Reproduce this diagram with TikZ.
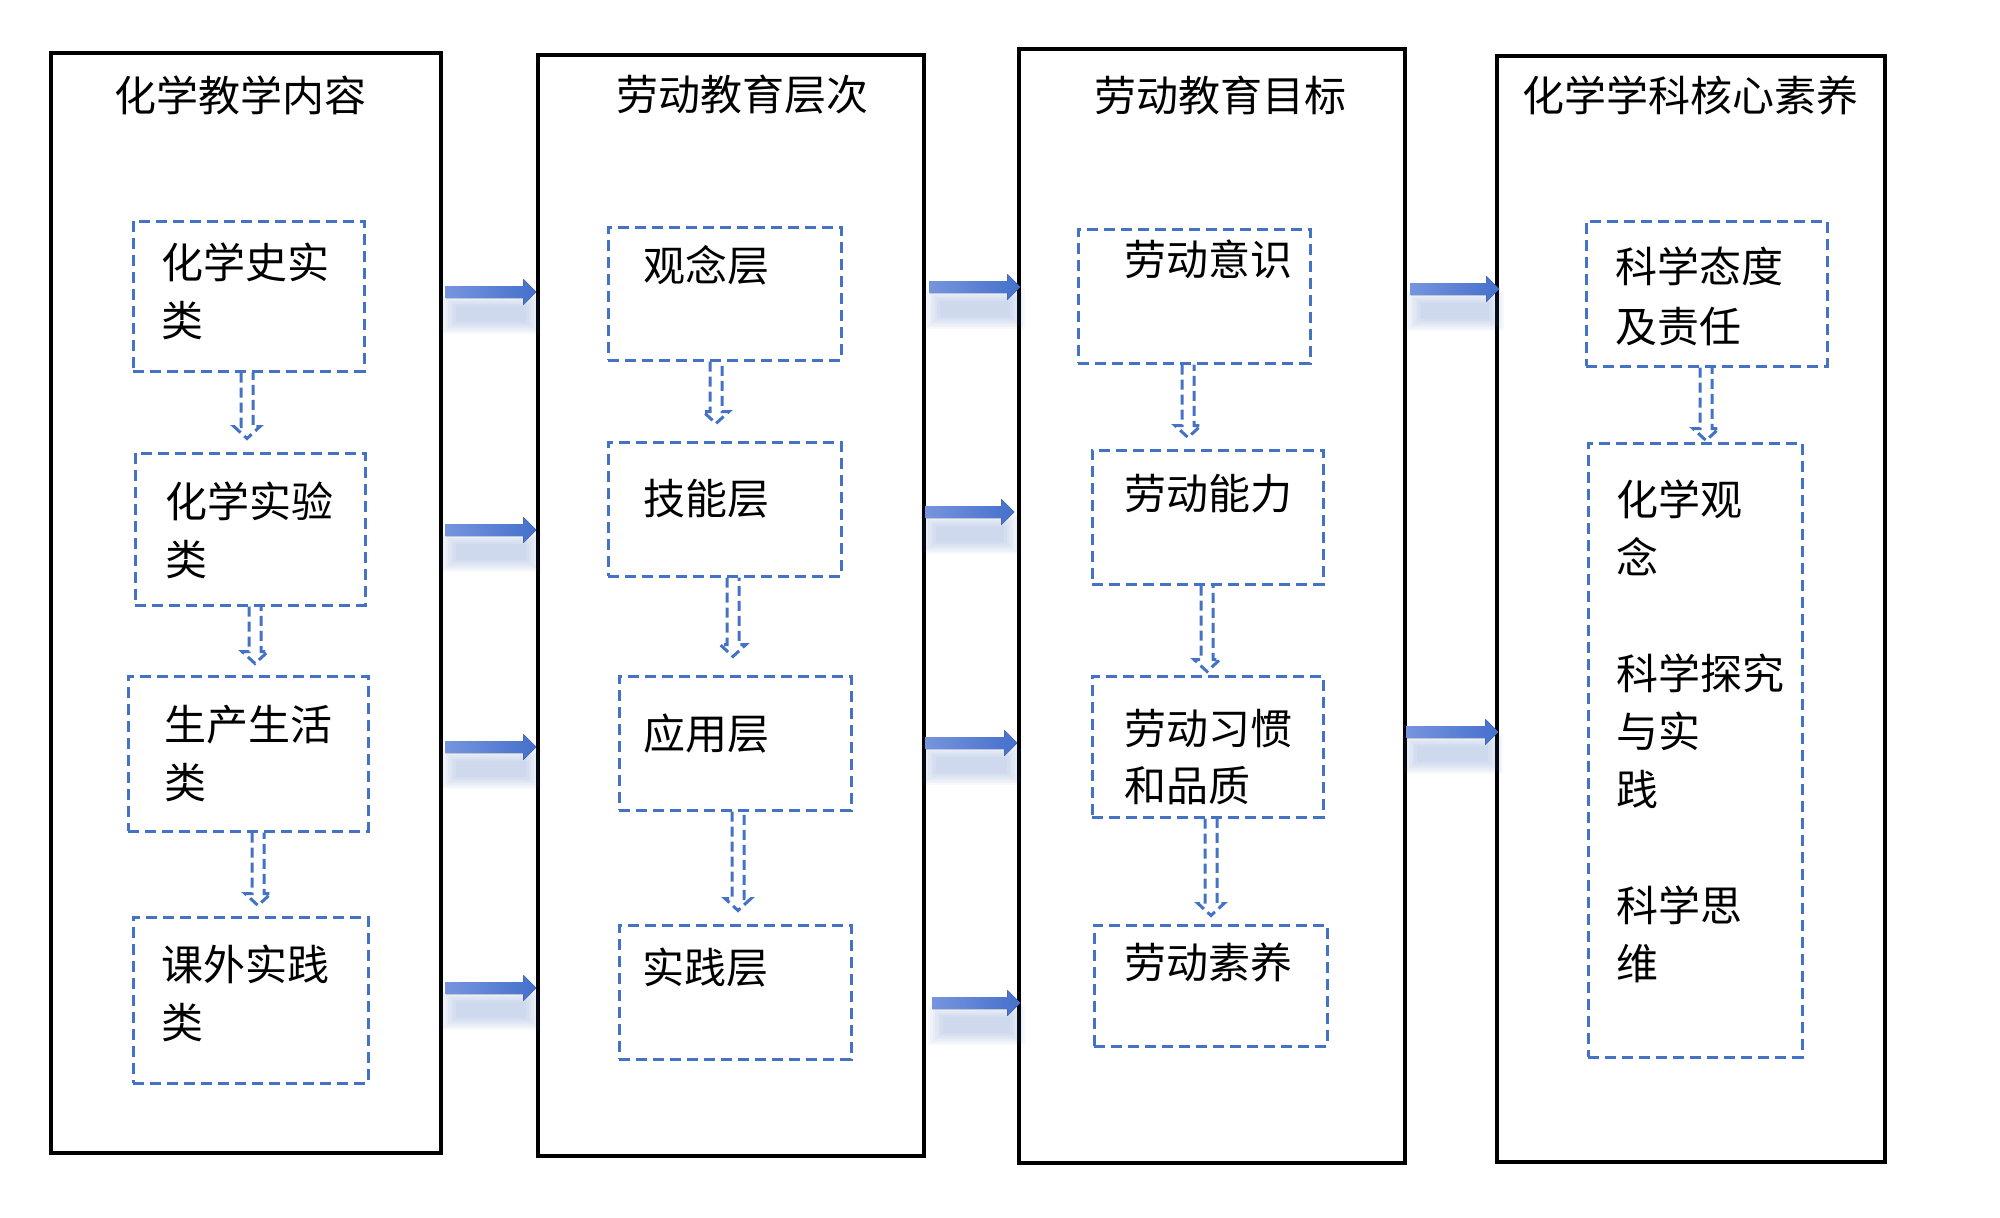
\documentclass[tikz,border=0pt]{standalone}
\usepackage{fontspec}
\newfontfamily\cjk{Noto Sans CJK SC}
\usetikzlibrary{calc,fit}
\definecolor{dashblue}{RGB}{68,114,196}
\definecolor{arrdark}{RGB}{68,112,204}
\definecolor{arrlight}{RGB}{118,148,222}
\tikzset{
  outerbox/.style={draw=black,line width=3.2pt,inner sep=0pt},
  dbox/.style={draw=dashblue,line width=3pt,dash pattern=on 11pt off 6pt,inner sep=0pt},
  titletext/.style={font=\cjk\fontsize{42}{50}\selectfont,inner sep=0pt},
  lbl/.style={font=\cjk\fontsize{42}{58}\selectfont,align=left,anchor=north west,inner sep=0pt},
  vdash/.style={draw=dashblue,line width=3pt,dash pattern=on 10pt off 5pt,line join=miter},
  arrfill/.style={left color=arrlight,right color=arrdark},
  arrshadow/.style={fill=dashblue,opacity=0.04},
}
% horizontal block arrow: from node, to node, y, start offset, end offset
\newcommand\harrow[5]{%
  \foreach \k in {0,...,6}{%
    \fill[arrshadow] let \p1=(#1.east), \p2=(#2.west) in
      ({\x1+#4pt+10pt-\k*2.5pt},{-#3pt-14pt+\k*2pt}) rectangle ({\x2+(#5pt)-10pt+\k*2.5pt},{-#3pt-30pt-\k*2pt});
  }
  \fill[arrfill] let \p1=(#1.east), \p2=(#2.west) in
    ({\x1+#4pt},{-#3pt+6pt}) -- ({\x2+(#5pt)-13pt},{-#3pt+6pt}) -- ({\x2+(#5pt)-13pt},{-#3pt+13pt})
    -- ({\x2+(#5pt)},{-#3pt}) -- ({\x2+(#5pt)-13pt},{-#3pt-13pt}) -- ({\x2+(#5pt)-13pt},{-#3pt-6pt})
    -- ({\x1+#4pt},{-#3pt-6pt}) -- cycle;
}
% vertical dashed hollow arrow: top node, bottom node, x, gap above bottom node
\newcommand\varrow[4]{%
  \draw[vdash] let \p1=(#1.south), \p2=(#2.north) in
   ({#3pt-6pt},{\y1}) -- ({#3pt-6pt},{\y2+#4pt+12pt}) -- ({#3pt-13pt},{\y2+#4pt+12pt}) -- ({#3pt},{\y2+#4pt})
   -- ({#3pt+13pt},{\y2+#4pt+12pt}) -- ({#3pt+6pt},{\y2+#4pt+12pt}) -- ({#3pt+6pt},{\y1});
}
\begin{document}
\begin{tikzpicture}[x=1pt,y=-1pt]
\useasboundingbox (0,0) rectangle (2000,1218);
\fill[white] (0,0) rectangle (2000,1218);

% outer boxes
\node[outerbox,fit={(51,53) (441,1153)}] (b1) {};
\node[outerbox,fit={(538,55) (924,1156)}] (b2) {};
\node[outerbox,fit={(1019,49) (1405,1163)}] (b3) {};
\node[outerbox,fit={(1497,56) (1885,1162)}] (b4) {};

% titles
\node[titletext] (h1) at (240,95) {化学教学内容};
\node[titletext] (h2) at (742,95) {劳动教育层次};
\node[titletext] (h3) at (1220,95) {劳动教育目标};
\node[titletext] (h4) at (1690,95) {化学学科核心素养};

% column 1
\node[dbox,fit={(133,221) (364,371)}] (c1a) {};
\node[dbox,fit={(135,453) (365,605)}] (c1b) {};
\node[dbox,fit={(128,676) (368,831)}] (c1c) {};
\node[dbox,fit={(133,917) (368,1083)}] (c1d) {};
\node[lbl] (t1a) at (161,243) {化学史实\\类};
\node[lbl] (t1b) at (165,482) {化学实验\\类};
\node[lbl] (t1c) at (164,705) {生产生活\\类};
\node[lbl] (t1d) at (161,945) {课外实践\\类};

% column 2
\node[dbox,fit={(608,227) (841,360)}] (c2a) {};
\node[dbox,fit={(608,442) (841,576)}] (c2b) {};
\node[dbox,fit={(619,676) (851,810)}] (c2c) {};
\node[dbox,fit={(619,925) (851,1059)}] (c2d) {};
\node[lbl] (t2a) at (643,245) {观念层};
\node[lbl] (t2b) at (643,479) {技能层};
\node[lbl] (t2c) at (643,714) {应用层};
\node[lbl] (t2d) at (642,948) {实践层};

% column 3
\node[dbox,fit={(1078,229) (1310,363)}] (c3a) {};
\node[dbox,fit={(1092,450) (1323,584)}] (c3b) {};
\node[dbox,fit={(1092,676) (1323,817)}] (c3c) {};
\node[dbox,fit={(1094,925) (1327,1046)}] (c3d) {};
\node[lbl] (t3a) at (1124,240) {劳动意识};
\node[lbl] (t3b) at (1124,474) {劳动能力};
\node[lbl,font=\cjk\fontsize{42}{57}\selectfont] (t3c) at (1124,709) {劳动习惯\\和品质};
\node[lbl] (t3d) at (1124,943) {劳动素养};

% column 4
\node[dbox,fit={(1586,221) (1827,366)}] (c4a) {};
\node[dbox,fit={(1588,443) (1802,1057)}] (c4b) {};
\node[lbl,font=\cjk\fontsize{42}{60}\selectfont] (t4a) at (1615,247) {科学态度\\及责任};
\node[lbl] (t4b) at (1616,480) {化学观\\念\\[58pt]科学探究\\与实\\践\\[58pt]科学思\\维};

% horizontal arrows
\harrow{b1}{b2}{292}{3}{0}
\harrow{b1}{b2}{530}{3}{0}
\harrow{b1}{b2}{747}{3}{0}
\harrow{b1}{b2}{988}{3}{0}
\harrow{b2}{b3}{287}{4}{3}
\harrow{b2}{b3}{512}{0}{-3}
\harrow{b2}{b3}{743}{0}{0}
\harrow{b2}{b3}{1003}{7}{3}
\harrow{b3}{b4}{289}{4}{4}
\harrow{b3}{b4}{732}{0}{3}

% vertical arrows
\varrow{c1a}{c1b}{247}{13}
\varrow{c1b}{c1c}{255}{11}
\varrow{c1c}{c1d}{258}{10}
\varrow{c2a}{c2b}{716}{17}
\varrow{c2b}{c2c}{733}{18}
\varrow{c2c}{c2d}{738}{13}
\varrow{c3a}{c3b}{1188}{11}
\varrow{c3b}{c3c}{1207}{3}
\varrow{c3c}{c3d}{1211}{8}
\varrow{c4a}{c4b}{1706}{1}
\end{tikzpicture}
\end{document}
